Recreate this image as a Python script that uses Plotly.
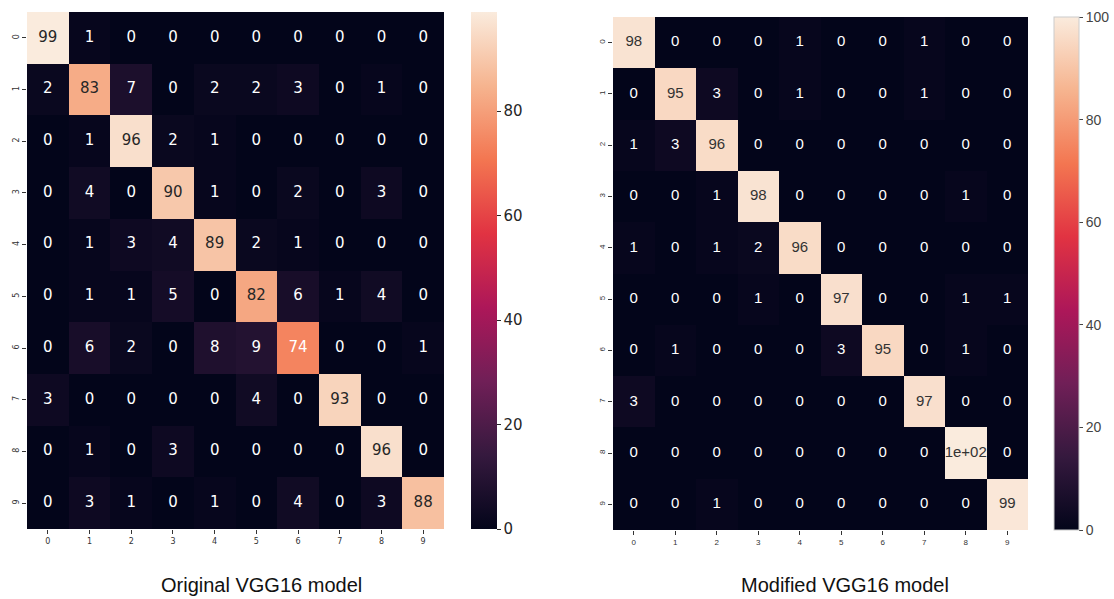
import plotly.graph_objects as go

classes = ["0", "1", "2", "3", "4", "5", "6", "7", "8", "9"]

original_cm = [
    [99, 1, 0, 0, 0, 0, 0, 0, 0, 0],
    [2, 83, 7, 0, 2, 2, 3, 0, 1, 0],
    [0, 1, 96, 2, 1, 0, 0, 0, 0, 0],
    [0, 4, 0, 90, 1, 0, 2, 0, 3, 0],
    [0, 1, 3, 4, 89, 2, 1, 0, 0, 0],
    [0, 1, 1, 5, 0, 82, 6, 1, 4, 0],
    [0, 6, 2, 0, 8, 9, 74, 0, 0, 1],
    [3, 0, 0, 0, 0, 4, 0, 93, 0, 0],
    [0, 1, 0, 3, 0, 0, 0, 0, 96, 0],
    [0, 3, 1, 0, 1, 0, 4, 0, 3, 88],
]

modified_cm = [
    [98, 0, 0, 0, 1, 0, 0, 1, 0, 0],
    [0, 95, 3, 0, 1, 0, 0, 1, 0, 0],
    [1, 3, 96, 0, 0, 0, 0, 0, 0, 0],
    [0, 0, 1, 98, 0, 0, 0, 0, 1, 0],
    [1, 0, 1, 2, 96, 0, 0, 0, 0, 0],
    [0, 0, 0, 1, 0, 97, 0, 0, 1, 1],
    [0, 1, 0, 0, 0, 3, 95, 0, 1, 0],
    [3, 0, 0, 0, 0, 0, 0, 97, 0, 0],
    [0, 0, 0, 0, 0, 0, 0, 0, 100, 0],
    [0, 0, 1, 0, 0, 0, 0, 0, 0, 99],
]

titles = ["Original VGG16 model", "Modified VGG16 model"]
left_cbar_ticks = [0, 20, 40, 60, 80]
right_cbar_ticks = [0, 20, 40, 60, 80, 100]

rocket = [
    [0.0, "#03051a"],
    [1 / 7, "#35193e"],
    [2 / 7, "#701f57"],
    [3 / 7, "#ad1759"],
    [4 / 7, "#e13342"],
    [5 / 7, "#f37651"],
    [6 / 7, "#f6b48f"],
    [1.0, "#faebdd"],
]

W, H = 1114, 599


def px_x(p):
    return p / W


def px_y(p):
    return 1 - p / H


panels = [
    dict(cm=original_cm, x0=27, x1=444, y0=12, y1=529, cb_x=471, cb_th=26,
         ticks=left_cbar_ticks, font="DejaVu Sans", ann_size=15, cb_size=15,
         cb_color="#262626", outline=0, title_x=261, dark="#262626"),
    dict(cm=modified_cm, x0=613, x1=1028, y0=17, y1=530, cb_x=1054, cb_th=25,
         ticks=right_cbar_ticks, font="Liberation Sans", ann_size=15, cb_size=14,
         cb_color="#444444", outline=1, title_x=845, dark="#333333"),
]

fig = go.Figure()
layout_axes = {}
for i, p in enumerate(panels):
    n = i + 1
    xa = "x" if n == 1 else f"x{n}"
    ya = "y" if n == 1 else f"y{n}"
    cm = p["cm"]
    zmax = max(max(r) for r in cm)
    fig.add_trace(go.Heatmap(
        z=cm, x=list(range(len(classes))), y=list(range(len(classes))),
        colorscale=rocket, zmin=0, zmax=zmax, xaxis=xa, yaxis=ya,
        hoverinfo="skip",
        colorbar=dict(
            x=px_x(p["cb_x"]), xanchor="left", xref="paper", xpad=0,
            y=px_y(p["y0"]), yanchor="top", yref="paper", ypad=0,
            len=p["y1"] - p["y0"], lenmode="pixels",
            thickness=p["cb_th"], thicknessmode="pixels",
            outlinewidth=p["outline"], outlinecolor="#cccccc",
            tickvals=p["ticks"], ticks="outside", ticklen=4, tickwidth=1,
            tickcolor=p["cb_color"],
            tickfont=dict(family=p["font"], size=p["cb_size"], color=p["cb_color"]),
        ),
    ))
    xs, ys, txt, cols = [], [], [], []
    for r, row in enumerate(cm):
        for c, v in enumerate(row):
            xs.append(c)
            ys.append(r)
            txt.append(format(v, ".2g"))
            cols.append(p["dark"] if v / zmax > 0.78 else "#ffffff")
    fig.add_trace(go.Scatter(
        x=xs, y=ys, text=txt, mode="text", xaxis=xa, yaxis=ya,
        textfont=dict(family=p["font"], size=p["ann_size"], color=cols),
        hoverinfo="skip", showlegend=False,
    ))
    axkey = "xaxis" if n == 1 else f"xaxis{n}"
    aykey = "yaxis" if n == 1 else f"yaxis{n}"
    layout_axes[axkey] = dict(
        domain=[px_x(p["x0"]), px_x(p["x1"])], anchor=ya,
        range=[-0.5, 9.5], tickvals=list(range(10)), ticktext=classes,
        showgrid=False, zeroline=False, ticks="outside", ticklen=4,
        tickcolor="#333333", tickfont=dict(family=p["font"], size=8, color="#333333"),
        fixedrange=True,
    )
    layout_axes[aykey] = dict(
        domain=[px_y(p["y1"]), px_y(p["y0"])], anchor=xa,
        range=[9.5, -0.5], tickvals=list(range(10)), ticktext=classes,
        showgrid=False, zeroline=False, ticks="outside", ticklen=4,
        tickcolor="#333333", tickangle=-90,
        tickfont=dict(family=p["font"], size=8, color="#333333"),
        fixedrange=True,
    )
    fig.add_annotation(
        text=titles[i], x=px_x(p["title_x"]), y=px_y(585), xref="paper", yref="paper",
        xanchor="center", yanchor="middle", showarrow=False,
        font=dict(family="Liberation Sans", size=20, color="#111111"),
    )

fig.update_layout(
    width=W, height=H, margin=dict(l=0, r=0, t=0, b=0),
    paper_bgcolor="white", plot_bgcolor="white", showlegend=False,
    **layout_axes,
)

fig.write_html(
    "out.html",
    config={"displayModeBar": False},
    post_script="document.body.style.margin='0';document.body.style.overflow='hidden';",
)
